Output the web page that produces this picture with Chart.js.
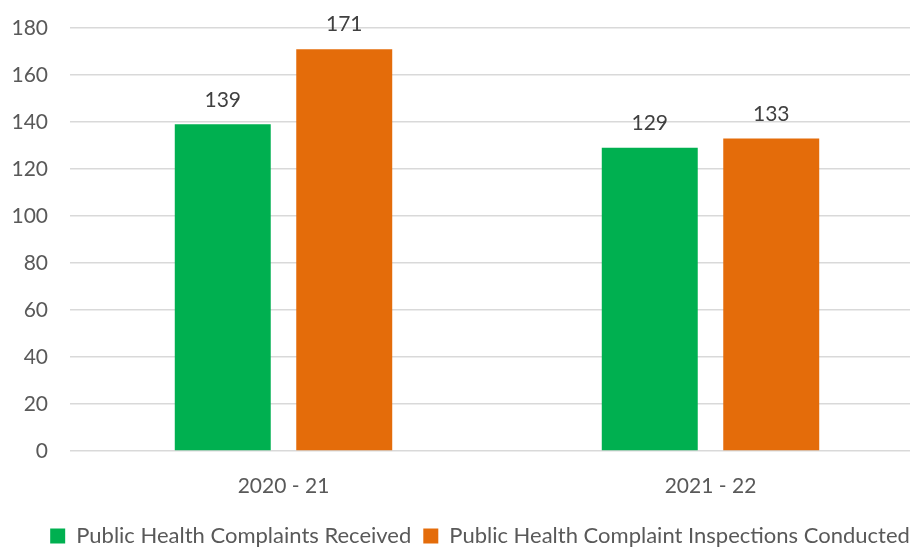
<!DOCTYPE html>
<html>
<head>
<meta charset="utf-8">
<script src="https://cdn.jsdelivr.net/npm/chart.js@4.4.0/dist/chart.umd.min.js"></script>
<style>
html,body{margin:0;padding:0;background:#fff;overflow:hidden;width:910px;height:547px;}
#wrap{width:924px;height:547px;}
</style>
</head>
<body>
<div id="wrap"><canvas id="c" width="924" height="547"></canvas></div>
<script>
const categories = ["2020 - 21", "2021 - 22"];
const seriesNames = ["Public Health Complaints Received", "Public Health Complaint Inspections Conducted"];
const complaintsReceived = [139, 129];
const inspectionsConducted = [171, 133];
const yTicks = [0, 20, 40, 60, 80, 100, 120, 140, 160, 180];

const FONT = "Lato, 'Open Sans', sans-serif";
const FS = 21;

const valueLabels = {
  id: 'valueLabels',
  afterDatasetsDraw(chart) {
    const ctx = chart.ctx;
    ctx.save();
    ctx.font = FS + "px " + FONT;
    ctx.fillStyle = "#404040";
    ctx.textAlign = "center";
    ctx.textBaseline = "bottom";
    chart.data.datasets.forEach((ds, i) => {
      const meta = chart.getDatasetMeta(i);
      meta.data.forEach((bar, j) => {
        ctx.fillText(String(ds.data[j]), bar.x, bar.y - 14);
      });
    });
    ctx.restore();
  }
};

const legendShift = {
  id: 'legendShift',
  afterLayout(chart) {
    const lg = chart.legend;
    if (lg) { lg.left += 18; lg.right += 18; lg.top += 12; lg.bottom += 12; }
  }
};

new Chart(document.getElementById('c'), {
  type: 'bar',
  data: {
    labels: categories,
    datasets: [
      { label: seriesNames[0], data: complaintsReceived, backgroundColor: "#00B050",
        categoryPercentage: 0.569, barPercentage: 0.79 },
      { label: seriesNames[1], data: inspectionsConducted, backgroundColor: "#E46C0A",
        categoryPercentage: 0.569, barPercentage: 0.79 }
    ]
  },
  options: {
    responsive: false,
    animation: false,
    layout: { padding: { top: 28, left: 0, right: 0, bottom: 2 } },
    plugins: {
      tooltip: { enabled: false },
      legend: {
        position: 'bottom',
        labels: {
          font: { family: FONT, size: 22 },
          color: "#595959",
          boxWidth: 15, boxHeight: 15,
          padding: 12
        }
      }
    },
    scales: {
      x: {
        grid: { display: false, drawTicks: false },
        border: { display: false },
        ticks: { font: { family: FONT, size: FS }, color: "#595959", padding: 23 },
        afterFit(scale) { scale.height = 50; scale.paddingLeft = 0; scale.paddingRight = 0; }
      },
      y: {
        min: 0, max: 180,
        afterBuildTicks(scale) { scale.ticks = yTicks.map(v => ({ value: v })); },
        grid: { color: "#D9D9D9", lineWidth: 1.5, drawTicks: false },
        border: { display: false },
        ticks: { font: { family: FONT, size: FS }, color: "#595959", padding: 22 },
        afterFit(scale) { scale.width = 70; scale.paddingTop = 0; scale.paddingBottom = 0; }
      }
    }
  },
  plugins: [valueLabels, legendShift]
});
</script>
</body>
</html>
